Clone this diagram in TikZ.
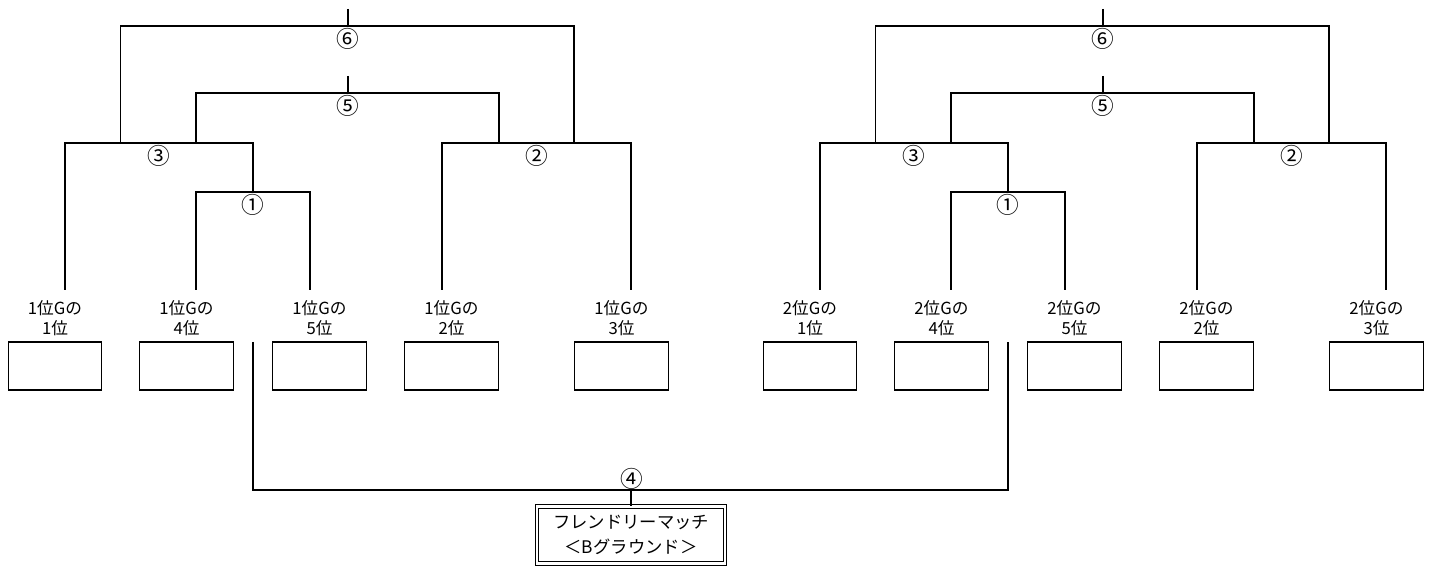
\documentclass[tikz,border=0pt]{standalone}
\usepackage{fontspec}
\setmainfont{Noto Sans CJK JP}
\usetikzlibrary{positioning}

\begin{document}
\begin{tikzpicture}[x=0.75pt,y=-0.75pt,line width=0.9pt,
	seat/.style={draw,minimum width=70pt,minimum height=36pt,inner sep=0pt},
	slot/.style={align=center,font=\fontsize{12.5}{15}\selectfont,inner sep=0pt},
	round/.style={font=\fontsize{17}{17}\selectfont,inner sep=0pt},
	final/.style={draw,double,double distance=1.8pt,line width=0.8pt,
		minimum width=141pt,minimum height=42.5pt,align=center,
		font=\fontsize{13}{19}\selectfont}]
	\useasboundingbox (0,0) rectangle (1432,566);

	% two blocks: 1位G left, 2位G right
	\foreach \h/\dx/\g in {a/0/1,b/755/2}{
		\node[seat](\h s1) at (\dx+55,366) {};
		\node[seat](\h s4) at (\dx+186.5,366) {};
		\node[seat](\h s5) at (\dx+319.5,366) {};
		\node[seat](\h s2) at (\dx+451.5,366) {};
		\node[seat](\h s3) at (\dx+621.5,366) {};
		\node[slot](\h l1) at (\dx+55,318) {\g 位Gの\\1位};
		\node[slot](\h l4) at (\dx+186.5,318) {\g 位Gの\\4位};
		\node[slot](\h l5) at (\dx+319.5,318) {\g 位Gの\\5位};
		\node[slot](\h l2) at (\dx+451.5,318) {\g 位Gの\\2位};
		\node[slot](\h l3) at (\dx+621.5,318) {\g 位Gの\\3位};

		\coordinate (\h t1) at (\dx+65,290);
		\coordinate (\h t4) at (\dx+196,290);
		\coordinate (\h t5) at (\dx+310,290);
		\coordinate (\h t2) at (\dx+442,290);
		\coordinate (\h t3) at (\dx+631,290);
		\coordinate (\h j1) at (\dx+253,192);
		\coordinate (\h j3) at (\dx+253,143);
		\coordinate (\h j2) at (\dx+537,143);
		\coordinate (\h f5a) at (\dx+196,143);
		\coordinate (\h f5b) at (\dx+499,143);
		\coordinate (\h j5) at (\dx+348,93);
		\coordinate (\h top5) at (\dx+348,76);
		\coordinate (\h f6a) at (\dx+120.5,143);
		\coordinate (\h f6b) at (\dx+574,143);
		\coordinate (\h j6) at (\dx+348,26);
		\coordinate (\h top6) at (\dx+348,9);

		\node[round](\h r1) at (\dx+253,205) {①};
		\node[round](\h r2) at (\dx+537,156) {②};
		\node[round](\h r3) at (\dx+159,156) {③};
		\node[round](\h r5) at (\dx+348,106) {⑤};
		\node[round](\h r6) at (\dx+348,39) {⑥};

		\draw (\h t4) |- (\h j1) -| (\h t5);
		\draw (\h t1) |- (\h j3) -- (\h j1);
		\draw (\h t2) |- (\h j2) -| (\h t3);
		\draw (\h f5a) |- (\h j5) -| (\h f5b);
		\draw (\h top5) -- (\h j5);
		\draw (\h f6a) |- (\h j6) -| (\h f6b);
		\draw (\h top6) -- (\h j6);
	}

	% friendly match
	\coordinate (f4a) at (253,342);
	\coordinate (f4b) at (1008,342);
	\coordinate (j4) at (631,490);
	\node[round](r4) at (632,479) {④};
	\node[final](fm) at (631,535) {フレンドリーマッチ\\＜Bグラウンド＞};
	\draw (f4a) |- (j4) -| (f4b);
	\draw (j4) -- (fm.north);
\end{tikzpicture}
\end{document}
